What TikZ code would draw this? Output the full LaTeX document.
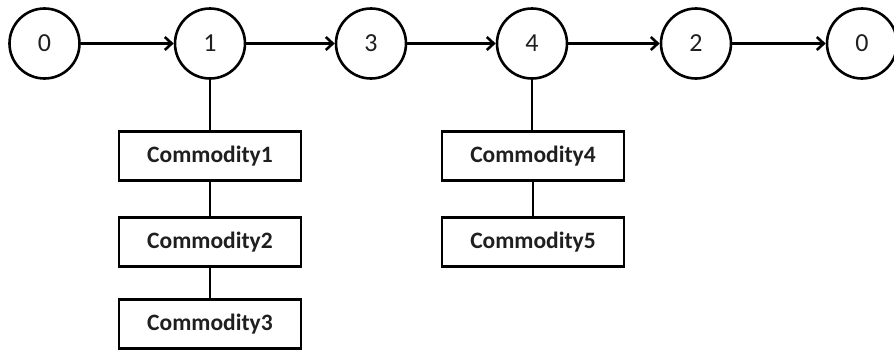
\documentclass[tikz,border=0pt]{standalone}
\usepackage{fontspec}
\setmainfont{Carlito}
\usetikzlibrary{arrows.meta}
\begin{document}
\begin{tikzpicture}[x=1pt,y=-1pt,
  every node/.style={text=black!88},
  stop/.style={circle,draw=black,line width=2.6pt,minimum size=70pt,inner sep=0pt,
    font=\fontsize{26}{28}\selectfont},
  cbox/.style={rectangle,draw=black,line width=2.6pt,minimum width=182pt,minimum height=49pt,inner sep=0pt,
    font=\fontsize{23.5}{26}\selectfont\bfseries},
  flow/.style={line width=2.6pt,-{Straight Barb[length=7pt,width=13pt,line width=2.6pt]}},
  link/.style={line width=2.6pt}]
\path[use as bounding box] (0,0) rectangle (894,351);
\node[stop] (s0) at (44.5,43.5) {0};
\node[stop] (s1) at (210,43.5) {1};
\node[stop] (s3) at (371,43.5) {3};
\node[stop] (s4) at (532,43.5) {4};
\node[stop] (s2) at (696,43.5) {2};
\node[stop] (s5) at (862,43.5) {0};
\draw[flow] (s0) -- (s1);
\draw[flow] (s1) -- (s3);
\draw[flow] (s3) -- (s4);
\draw[flow] (s4) -- (s2);
\draw[flow] (s2) -- (s5);
\node[cbox] (c1) at (210,156) {Commodity1};
\node[cbox] (c2) at (210,242) {Commodity2};
\node[cbox] (c3) at (210,324) {Commodity3};
\node[cbox] (c4) at (533,156) {Commodity4};
\node[cbox] (c5) at (533,242) {Commodity5};
\draw[link] (s1) -- (c1);
\draw[link] (c1) -- (c2);
\draw[link] (c2) -- (c3);
\draw[link] (s4.south) -- (s4.south |- c4.north);
\draw[link] (c4) -- (c5);
\end{tikzpicture}
\end{document}
